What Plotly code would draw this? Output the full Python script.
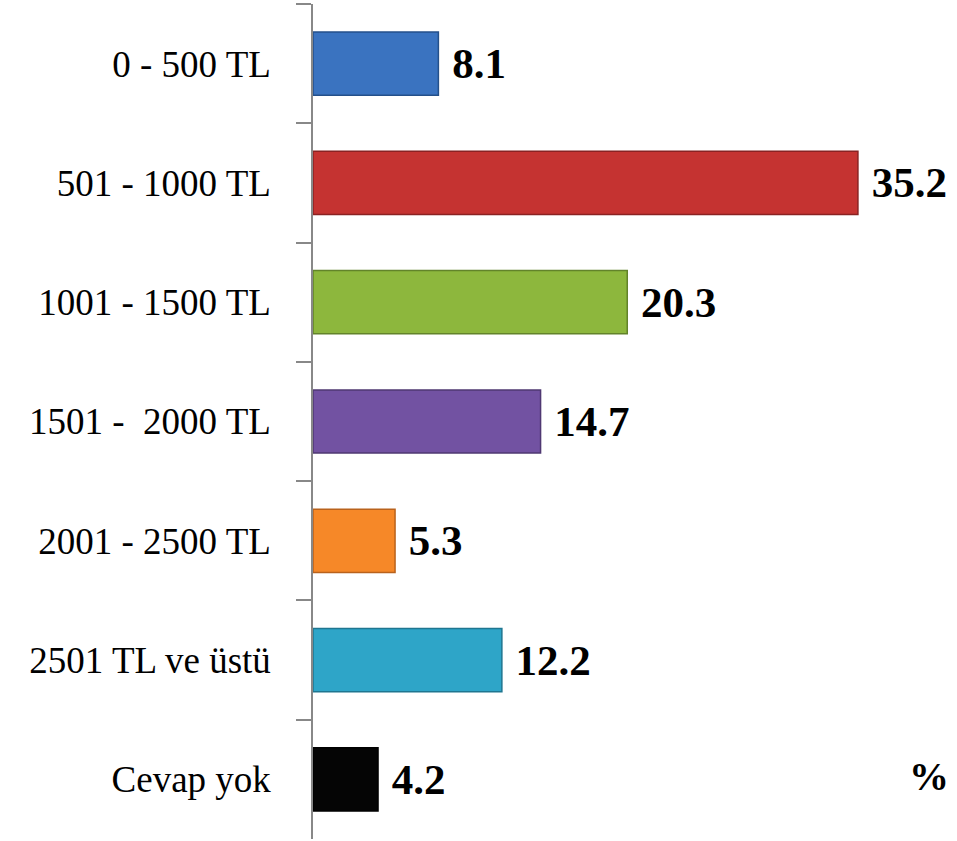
import plotly.graph_objects as go

categories = ["0 - 500 TL", "501 - 1000 TL", "1001 - 1500 TL", "1501 -  2000 TL",
              "2001 - 2500 TL", "2501 TL ve üstü", "Cevap yok"]
values = [8.1, 35.2, 20.3, 14.7, 5.3, 12.2, 4.2]
value_labels = ["8.1", "35.2", "20.3", "14.7", "5.3", "12.2", "4.2"]
colors = ["#3a73c0", "#c53331", "#8db73d", "#7252a2", "#f68828", "#2ea5c8", "#050505"]
edge_colors = ["#24508a", "#8a2222", "#62832a", "#4f3872", "#b9621c", "#1f7690", "#000000"]

fig = go.Figure(go.Bar(
    y=categories, x=values, orientation="h",
    marker=dict(color=colors, line=dict(color=edge_colors, width=1.5)),
    text=[" " + t for t in value_labels], textposition="outside",
    textfont=dict(family="Liberation Serif", size=43, color="#000000", weight="bold"),
    cliponaxis=False,
))

fig.update_layout(
    width=957, height=841,
    margin=dict(l=313, r=0, t=4, b=2),
    paper_bgcolor="white", plot_bgcolor="white",
    bargap=0.47, showlegend=False,
    xaxis=dict(range=[0, 41.6], visible=False, showgrid=False, zeroline=False),
    yaxis=dict(autorange="reversed", type="category", tickson="boundaries",
               ticks="outside", ticklen=15, tickcolor="#888888", tickwidth=1.5,
               showline=True, linecolor="#888888", linewidth=1.5,
               showgrid=False, ticklabelstandoff=33,
               tickfont=dict(family="Liberation Serif", size=37, color="#000000")),
    annotations=[dict(text="<b>%</b>", x=0.991, y=0.045, xref="paper", yref="paper",
                      xanchor="right", yanchor="bottom",
                      showarrow=False, font=dict(family="Liberation Serif", size=40, color="#000000"))],
)

fig.write_html("out.html", config={"displayModeBar": False},
               post_script="document.body.style.margin='0px';")
